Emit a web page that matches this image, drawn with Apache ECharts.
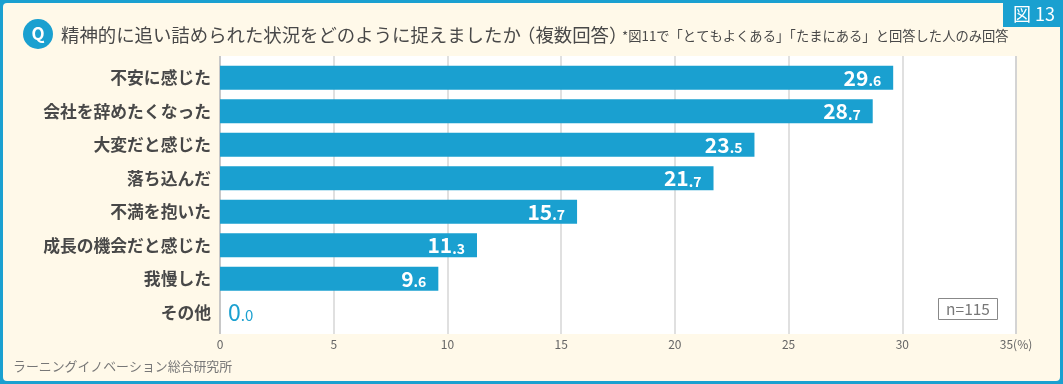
<!DOCTYPE html>
<html>
<head>
<meta charset="utf-8">
<style>html,body{margin:0;padding:0;background:#fff}#chartmain{width:1063px;height:384px}</style>
<script src="https://cdn.jsdelivr.net/npm/echarts@6/dist/echarts.min.js"></script>
</head>
<body>
<div id="chartmain"></div>
<script>
var categories = ['不安に感じた', '会社を辞めたくなった', '大変だと感じた', '落ち込んだ', '不満を抱いた', '成長の機会だと感じた', '我慢した', 'その他'];
var values = [29.6, 28.7, 23.5, 21.7, 15.7, 11.3, 9.6, 0.0];
var xMax = 35;
var xStep = 5;

var blue = '#1aa0d0';
var cream = '#fff9e9';
var font = '"Noto Sans CJK JP"';

function valueLabel(p) {
  var parts = p.value.toFixed(1).split('.');
  if (p.value === 0) return '{bz|' + parts[0] + '}{sz|.' + parts[1] + '}';
  return '{b|' + parts[0] + '}{s|.' + parts[1] + '}';
}

var myChart = echarts.init(document.getElementById('chartmain'));
myChart.setOption({
  animation: false,
  backgroundColor: blue,
  grid: [
    // white plot area with gridlines
    { left: 220, top: 56, width: 796, height: 278, show: true, backgroundColor: '#fff', borderWidth: 0 },
    // bars, inset 5px top and bottom
    { left: 220, top: 61, width: 796, height: 268 }
  ],
  xAxis: [
    {
      gridIndex: 0, type: 'value', min: 0, max: xMax, interval: xStep,
      axisLine: { show: false }, axisTick: { show: false },
      splitLine: { lineStyle: { color: ['#c8c8c8', '#e0e0e0', '#e0e0e0', '#e0e0e0', '#e0e0e0', '#e0e0e0', '#e0e0e0', '#d4d4d4'], width: 2 } },
      axisLabel: {
        color: '#666', fontFamily: font, fontSize: 12, margin: 4,
        formatter: function (v) { return v === xMax ? v + '(%)' : v; }
      }
    },
    { gridIndex: 1, type: 'value', min: 0, max: xMax, show: false }
  ],
  yAxis: [
    { gridIndex: 0, type: 'category', show: false, inverse: true, data: categories },
    {
      gridIndex: 1, type: 'category', inverse: true, data: categories,
      axisLine: { show: false }, axisTick: { show: false },
      axisLabel: { color: '#484848', fontFamily: font, fontSize: 16.8, fontWeight: 'bold', margin: 9 }
    }
  ],
  series: [{
    type: 'bar',
    xAxisIndex: 1,
    yAxisIndex: 1,
    data: values.map(function (v) {
      // the zero value has no bar, so its number goes just after the axis
      return v === 0 ? { value: v, label: { position: 'right', distance: 8 } } : v;
    }),
    barWidth: 24,
    itemStyle: { color: blue },
    label: {
      show: true,
      position: 'insideRight',
      distance: 12,
      fontFamily: font,
      formatter: valueLabel,
      rich: {
        b: { color: '#fff', fontSize: 21, fontWeight: 'bold', fontFamily: font },
        s: { color: '#fff', fontSize: 14, fontWeight: 'bold', fontFamily: font, padding: [6, 0, 0, 0] },
        bz: { color: blue, fontSize: 23, fontFamily: font },
        sz: { color: blue, fontSize: 15, fontFamily: font, padding: [6, 0, 0, 0] }
      }
    }
  }],
  graphic: [
    { type: 'rect', z: -1, shape: { x: 3, y: 3, width: 1057, height: 378, r: 4 }, style: { fill: cream } },
    { type: 'rect', shape: { x: 1003, y: 0, width: 60, height: 27 }, style: { fill: blue } },
    { type: 'text', x: 1034, y: 14, style: { text: '図 13', fill: '#fff', font: '18px ' + font, align: 'center', verticalAlign: 'middle' } },
    { type: 'circle', shape: { cx: 38, cy: 34, r: 15 }, style: { fill: blue } },
    { type: 'text', x: 38, y: 34, style: { text: 'Q', fill: '#fff', font: 'bold 17px ' + font, align: 'center', verticalAlign: 'middle' } },
    { type: 'text', x: 61, y: 35, style: { text: '精神的に追い詰められた状況をどのように捉えましたか', fill: '#484848', font: '18.4px ' + font, verticalAlign: 'middle' } },
    { type: 'text', x: 517, y: 35, style: { text: '（複数回答）', fill: '#484848', font: '18.4px ' + font, verticalAlign: 'middle' } },
    { type: 'text', x: 622, y: 36, style: { text: '*図11で「とてもよくある」「たまにある」と回答した人のみ回答', fill: '#484848', font: '13.3px ' + font, verticalAlign: 'middle' } },
    { type: 'text', x: 13, y: 366, style: { text: 'ラーニングイノベーション総合研究所', fill: '#777', font: '12.9px ' + font, verticalAlign: 'middle' } },
    { type: 'rect', shape: { x: 938.5, y: 298.5, width: 59, height: 21 }, style: { fill: '#fff', stroke: '#888', lineWidth: 1 } },
    { type: 'text', x: 968, y: 309, style: { text: 'n=115', fill: '#777', font: '15.5px ' + font, align: 'center', verticalAlign: 'middle' } }
  ]
});
</script>
</body>
</html>
